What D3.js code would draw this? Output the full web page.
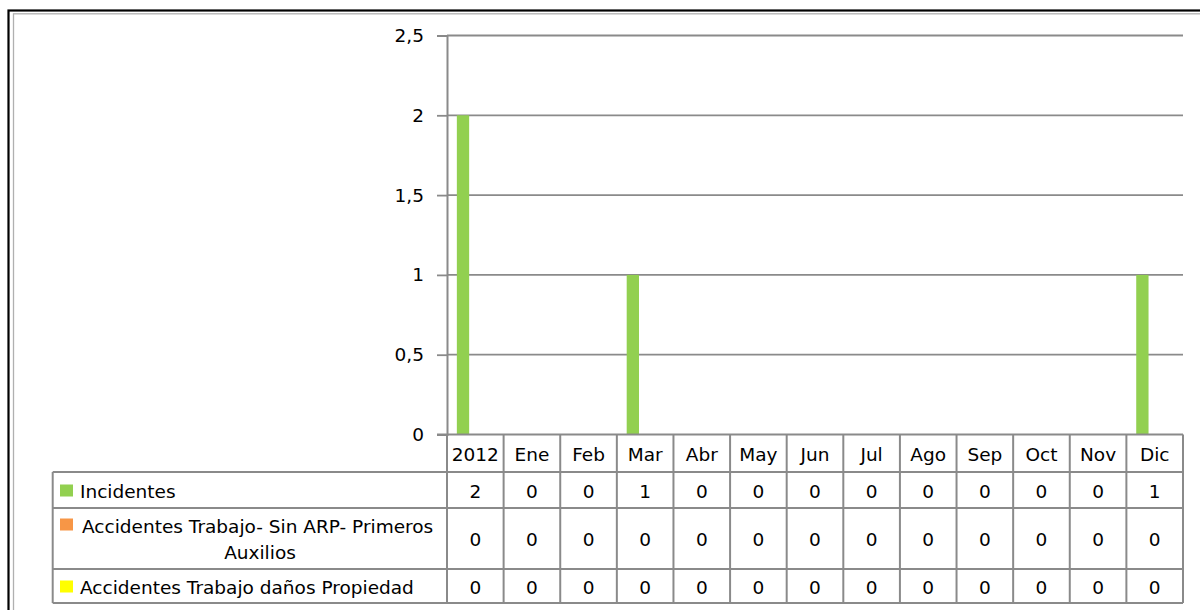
<!DOCTYPE html>
<html><head><meta charset="utf-8">
<script src="https://cdn.jsdelivr.net/npm/d3@7"></script>
<style>
html,body{margin:0;padding:0;background:#fff;}
svg text{font-family:"DejaVu Sans",Verdana,sans-serif;fill:#000;}
</style></head>
<body><svg id="chart" width="1200" height="610"></svg>
<script>
// ---- data ----
const categories = ["2012","Ene","Feb","Mar","Abr","May","Jun","Jul","Ago","Sep","Oct","Nov","Dic"];
const seriesNames = ["Incidentes","Accidentes Trabajo- Sin ARP- Primeros Auxilios","Accidentes Trabajo daños Propiedad"];
const seriesLabelLines = [["Incidentes"],["Accidentes Trabajo- Sin ARP- Primeros","Auxilios"],["Accidentes Trabajo daños Propiedad"]];
const incidentes = [2,0,0,1,0,0,0,0,0,0,0,0,1];
const accidentesSinARP = [0,0,0,0,0,0,0,0,0,0,0,0,0];
const accidentesPropiedad = [0,0,0,0,0,0,0,0,0,0,0,0,0];
const seriesColors = ["#92D050","#F79646","#FFFF00"];
const yTicks = [0,0.5,1,1.5,2,2.5];

const seriesValues = [incidentes, accidentesSinARP, accidentesPropiedad];

// ---- layout ----
const svg = d3.select("#chart");
const plotL = 447, plotR = 1183, plotT = 35.5, plotB = 434.5;
const tableL = 52.7;
const rowEdges = [434.5, 472, 508, 569, 603]; // header, row1, row2, row3
const fs = 18.5;
const gridColor = "#8a8a8a";

// outer frame
svg.append("rect").attr("x",8.5).attr("y",10.5).attr("width",1220).attr("height",640)
  .attr("fill","none").attr("stroke","#000").attr("stroke-width",2.2);
svg.append("rect").attr("x",13.5).attr("y",13.8).attr("width",1210).attr("height",630)
  .attr("fill","none").attr("stroke","#b0b0b0").attr("stroke-width",1.3);

const x0 = d3.scaleBand().domain(categories).range([plotL, plotR]).padding(0);
const x1 = d3.scaleBand().domain(d3.range(seriesNames.length)).range([0, x0.bandwidth()])
  .paddingInner(0).paddingOuter(0.8);
const y = d3.scaleLinear().domain([0,2.5]).range([plotB, plotT]);

const locale = d3.formatLocale({decimal:",", thousands:".", grouping:[3], currency:["","€"]});
const fmt = locale.format("~g");

// gridlines
svg.append("g").selectAll("line").data(yTicks.filter(d=>d>0)).join("line")
  .attr("x1",plotL).attr("x2",plotR).attr("y1",d=>y(d)).attr("y2",d=>y(d))
  .attr("stroke",gridColor).attr("stroke-width",1.8);

// y axis
const yAxis = d3.axisLeft(y).tickValues(yTicks).tickFormat(fmt).tickSize(10).tickPadding(13);
const gy = svg.append("g").attr("transform",`translate(${plotL},0)`).call(yAxis);
gy.select(".domain").attr("stroke",gridColor).attr("stroke-width",2);
gy.selectAll(".tick line").attr("stroke",gridColor).attr("stroke-width",1.8);
gy.selectAll(".tick text").attr("font-size",fs).attr("font-family","DejaVu Sans").attr("fill","#000");

// bars
seriesValues.forEach((vals,si)=>{
  svg.append("g").selectAll("rect").data(vals.map((v,i)=>({v,c:categories[i]}))).join("rect")
    .attr("x",d=>x0(d.c)+x1(si)).attr("width",x1.bandwidth())
    .attr("y",d=>y(d.v)).attr("height",d=>y(0)-y(d.v))
    .attr("fill",seriesColors[si]);
});

// x axis baseline
svg.append("line").attr("x1",plotL-10).attr("x2",plotR).attr("y1",plotB).attr("y2",plotB)
  .attr("stroke",gridColor).attr("stroke-width",2);

// ---- data table ----
const tg = svg.append("g");
const lineStyle = s => s.attr("stroke","#8a8a8a").attr("stroke-width",2);
// horizontal lines
rowEdges.slice(1).forEach(yy=>{
  tg.append("line").attr("x1",tableL).attr("x2",plotR).attr("y1",yy).attr("y2",yy).call(lineStyle);
});
// vertical lines
tg.append("line").attr("x1",tableL).attr("x2",tableL).attr("y1",rowEdges[1]).attr("y2",rowEdges[4]).call(lineStyle);
tg.append("line").attr("x1",plotL).attr("x2",plotL).attr("y1",rowEdges[0]).attr("y2",rowEdges[4]).call(lineStyle);
categories.forEach(c=>{
  const xx = x0(c)+x0.bandwidth();
  tg.append("line").attr("x1",xx).attr("x2",xx).attr("y1",rowEdges[0]).attr("y2",rowEdges[4]).call(lineStyle);
});
// header labels
tg.selectAll("text.hdr").data(categories).join("text").attr("class","hdr")
  .attr("x",c=>x0(c)+x0.bandwidth()/2).attr("y",(rowEdges[0]+rowEdges[1])/2+1)
  .attr("text-anchor","middle").attr("dominant-baseline","central").attr("font-size",fs).text(c=>c);
// values
seriesValues.forEach((vals,si)=>{
  const cy = (rowEdges[si+1]+rowEdges[si+2])/2 + 1;
  tg.append("g").selectAll("text").data(vals.map((v,i)=>({v,c:categories[i]}))).join("text")
    .attr("x",d=>x0(d.c)+x0.bandwidth()/2).attr("y",cy)
    .attr("text-anchor","middle").attr("dominant-baseline","central").attr("font-size",fs)
    .text(d=>fmt(d.v));
});
// legend labels
seriesLabelLines.forEach((lines,si)=>{
  const top = rowEdges[si+1], bot = rowEdges[si+2];
  const cy = (top+bot)/2 + 1;
  if (lines.length===1){
    tg.append("rect").attr("x",60).attr("y",cy-6.5).attr("width",13).attr("height",12).attr("fill",seriesColors[si]);
    tg.append("text").attr("x",80).attr("y",cy).attr("dominant-baseline","central").attr("font-size",fs).text(lines[0]);
  } else {
    const ly1 = cy-13, ly2 = cy+13;
    tg.append("rect").attr("x",60).attr("y",ly1-8).attr("width",13).attr("height",12).attr("fill",seriesColors[si]);
    tg.append("text").attr("x",82).attr("y",ly1).attr("dominant-baseline","central").attr("font-size",fs).text(lines[0]);
    tg.append("text").attr("x",260).attr("y",ly2).attr("text-anchor","middle").attr("dominant-baseline","central").attr("font-size",fs).text(lines[1]);
  }
});
</script></body></html>
